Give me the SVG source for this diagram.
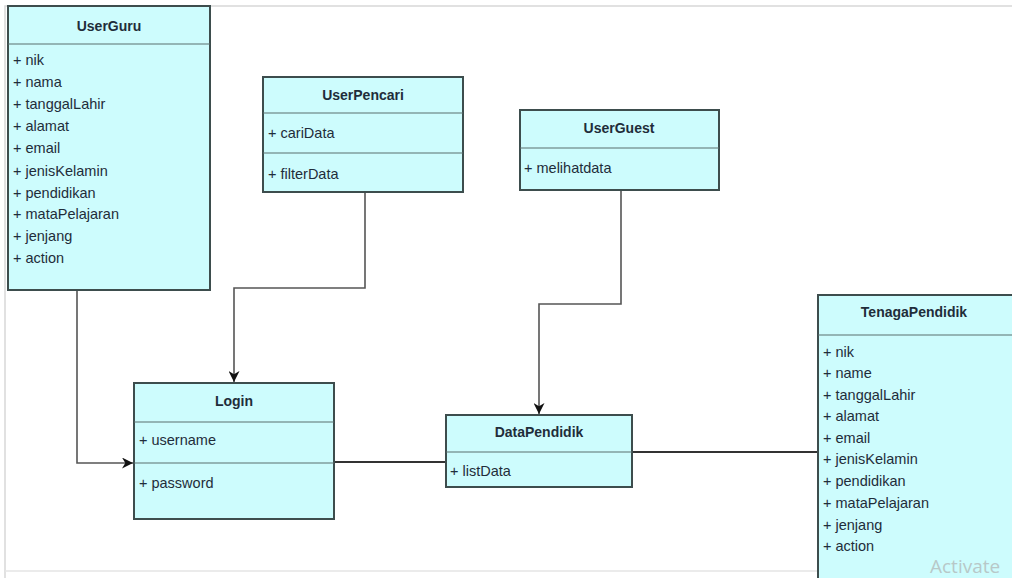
<svg xmlns="http://www.w3.org/2000/svg" width="1012" height="578" viewBox="0 0 1012 578">
<defs>
<style>
.box{fill:#cdfcfd;stroke:#3d4d4d;stroke-width:2}
.div{stroke:#5a6e6e;stroke-width:1.2}
.t{font-family:"Liberation Sans",Arial,sans-serif;font-size:14.5px;fill:#1f2d3a}
.h{font-family:"Liberation Sans",Arial,sans-serif;font-size:14px;font-weight:bold;fill:#1f2d3a;text-anchor:middle}
.c{fill:none;stroke:#555;stroke-width:1.6}
.c2{fill:none;stroke:#333;stroke-width:2.2}
</style>
<marker id="arr" viewBox="0 0 10 10" refX="10" refY="5" markerWidth="11" markerHeight="11" markerUnits="userSpaceOnUse" orient="auto">
<path d="M0,0 L10,5 L0,10 L3,5 Z" fill="#111"/>
</marker>
</defs>
<rect x="0" y="0" width="1012" height="578" fill="#ffffff"/>
<path d="M5,578 L5,6 L1012,6" fill="none" stroke="#d8d8d8" stroke-width="1.5"/>
<line x1="5" y1="571" x2="818" y2="571" stroke="#e4e4e4" stroke-width="1.5"/>

<g id="connectors">
<polyline class="c" points="77,290 77,463 133,463" marker-end="url(#arr)"/>
<polyline class="c" points="365,192 365,288 234,288 234,382" marker-end="url(#arr)"/>
<polyline class="c" points="621,190 621,304 539,304 539,414" marker-end="url(#arr)"/>
<line class="c2" x1="334" y1="462" x2="446" y2="462"/>
<line class="c2" x1="632" y1="452" x2="818" y2="452"/>
</g>

<g id="UserGuru">
<rect class="box" x="8" y="6" width="202" height="284"/>
<line class="div" x1="8" y1="44" x2="210" y2="44"/>
<text class="h" x="109" y="31">UserGuru</text>
<text class="t" x="13" y="65">+ nik</text>
<text class="t" x="13" y="87">+ nama</text>
<text class="t" x="13" y="109">+ tanggalLahir</text>
<text class="t" x="13" y="131">+ alamat</text>
<text class="t" x="13" y="153">+ email</text>
<text class="t" x="13" y="176">+ jenisKelamin</text>
<text class="t" x="13" y="198">+ pendidikan</text>
<text class="t" x="13" y="219">+ mataPelajaran</text>
<text class="t" x="13" y="241">+ jenjang</text>
<text class="t" x="13" y="263">+ action</text>
</g>

<g id="UserPencari">
<rect class="box" x="263" y="77" width="200" height="115"/>
<line class="div" x1="263" y1="113" x2="463" y2="113"/>
<line class="div" x1="263" y1="153" x2="463" y2="153"/>
<text class="h" x="363" y="100">UserPencari</text>
<text class="t" x="268" y="138">+ cariData</text>
<text class="t" x="268" y="179">+ filterData</text>
</g>

<g id="UserGuest">
<rect class="box" x="520" y="110" width="199" height="80"/>
<line class="div" x1="520" y1="148" x2="719" y2="148"/>
<text class="h" x="619" y="133">UserGuest</text>
<text class="t" x="524" y="173">+ melihatdata</text>
</g>

<g id="Login">
<rect class="box" x="134" y="383" width="200" height="136"/>
<line class="div" x1="134" y1="422" x2="334" y2="422"/>
<line class="div" x1="134" y1="463" x2="334" y2="463"/>
<text class="h" x="234" y="406">Login</text>
<text class="t" x="139" y="445">+ username</text>
<text class="t" x="139" y="488">+ password</text>
</g>

<g id="DataPendidik">
<rect class="box" x="446" y="415" width="186" height="72"/>
<line class="div" x1="446" y1="452" x2="632" y2="452"/>
<text class="h" x="539" y="437">DataPendidik</text>
<text class="t" x="450" y="476">+ listData</text>
</g>

<g id="TenagaPendidik">
<rect class="box" x="818" y="295" width="196" height="285"/>
<line class="div" x1="818" y1="335" x2="1012" y2="335"/>
<text class="h" x="914" y="317">TenagaPendidik</text>
<text class="t" x="823" y="357">+ nik</text>
<text class="t" x="823" y="378">+ name</text>
<text class="t" x="823" y="400">+ tanggalLahir</text>
<text class="t" x="823" y="421">+ alamat</text>
<text class="t" x="823" y="443">+ email</text>
<text class="t" x="823" y="464">+ jenisKelamin</text>
<text class="t" x="823" y="486">+ pendidikan</text>
<text class="t" x="823" y="508">+ mataPelajaran</text>
<text class="t" x="823" y="530">+ jenjang</text>
<text class="t" x="823" y="551">+ action</text>
</g>
<text x="930" y="573" font-family="'Open Sans','Noto Sans',sans-serif" font-size="19" fill="#b8c8c8">Activate</text>
</svg>
